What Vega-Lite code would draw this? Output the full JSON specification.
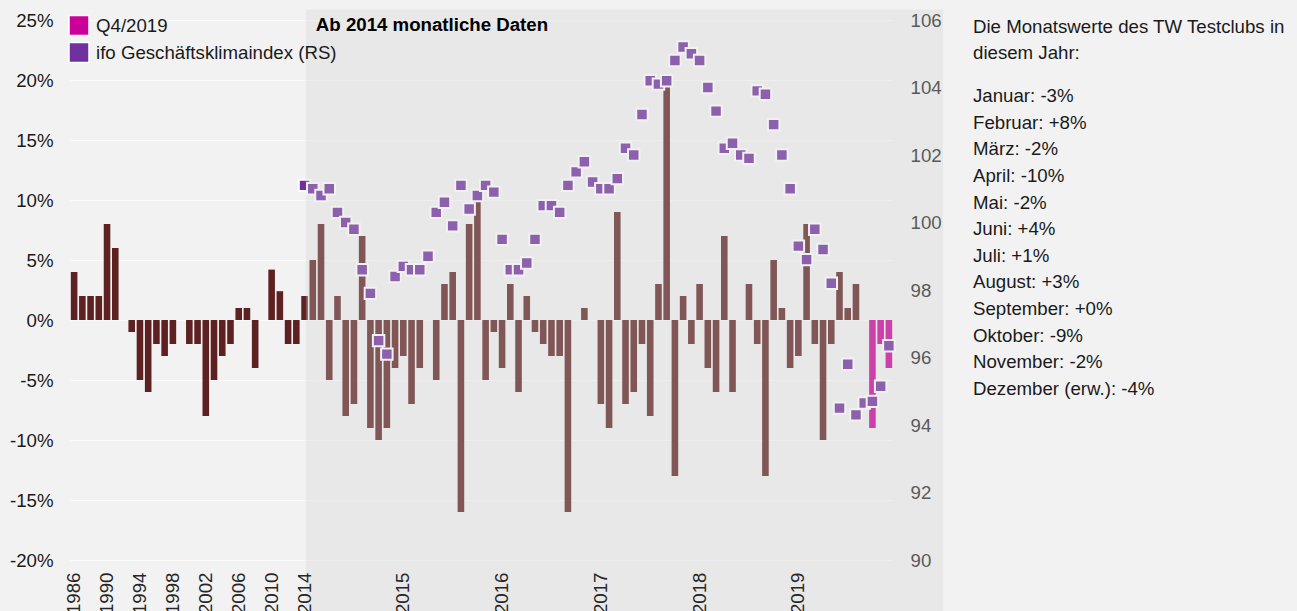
{
  "$schema": "https://vega.github.io/schema/vega-lite/v6.json",
  "width": 823,
  "height": 540,
  "autosize": {"type": "none"},
  "padding": {"left": 70, "top": 20, "right": 404, "bottom": 51},
  "background": "#F2F2F2",
  "config": {
    "font": "Liberation Sans",
    "view": {"stroke": null}
  },
  "title": {
    "text": ["Die Monatswerte des TW Testclubs in", "diesem Jahr:"],
    "subtitle": ["Januar: -3%", "Februar: +8%", "März: -2%", "April: -10%", "Mai: -2%", "Juni: +4%", "Juli: +1%", "August: +3%", "September: +0%", "Oktober: -9%", "November: -2%", "Dezember (erw.): -4%"],
    "orient": "top",
    "anchor": "start",
    "frame": "group",
    "offset": 0,
    "dx": 903,
    "dy": 389,
    "align": "left",
    "baseline": "top",
    "font": "Liberation Sans",
    "fontSize": 18.67,
    "fontWeight": "normal",
    "color": "#1a1a1a",
    "lineHeight": 26.6,
    "subtitleFont": "Liberation Sans",
    "subtitleFontSize": 18.67,
    "subtitleColor": "#1a1a1a",
    "subtitleLineHeight": 26.6,
    "subtitlePadding": 24.3,
    "limit": 0
  },
  "data": {
    "values": [
      {"k": "1986", "s": "annual", "v": 4},
      {"k": "1987", "s": "annual", "v": 2},
      {"k": "1988", "s": "annual", "v": 2},
      {"k": "1989", "s": "annual", "v": 2},
      {"k": "1990", "s": "annual", "v": 8},
      {"k": "1991", "s": "annual", "v": 6},
      {"k": "1992", "s": "annual", "v": 0},
      {"k": "1993", "s": "annual", "v": -1},
      {"k": "1994", "s": "annual", "v": -5},
      {"k": "1995", "s": "annual", "v": -6},
      {"k": "1996", "s": "annual", "v": -2},
      {"k": "1997", "s": "annual", "v": -3},
      {"k": "1998", "s": "annual", "v": -2},
      {"k": "1999", "s": "annual", "v": 0},
      {"k": "2000", "s": "annual", "v": -2},
      {"k": "2001", "s": "annual", "v": -2},
      {"k": "2002", "s": "annual", "v": -8},
      {"k": "2003", "s": "annual", "v": -5},
      {"k": "2004", "s": "annual", "v": -3},
      {"k": "2005", "s": "annual", "v": -2},
      {"k": "2006", "s": "annual", "v": 1},
      {"k": "2007", "s": "annual", "v": 1},
      {"k": "2008", "s": "annual", "v": -4},
      {"k": "2009", "s": "annual", "v": 0},
      {"k": "2010", "s": "annual", "v": 4.2},
      {"k": "2011", "s": "annual", "v": 2.4},
      {"k": "2012", "s": "annual", "v": -2},
      {"k": "2013", "s": "annual", "v": -2},
      {"k": "2014-01", "s": "monthly", "v": 2, "ifo": 101.1},
      {"k": "2014-02", "s": "monthly", "v": 5, "ifo": 101.0},
      {"k": "2014-03", "s": "monthly", "v": 8, "ifo": 100.8},
      {"k": "2014-04", "s": "monthly", "v": -5, "ifo": 101.0},
      {"k": "2014-05", "s": "monthly", "v": 2, "ifo": 100.3},
      {"k": "2014-06", "s": "monthly", "v": -8, "ifo": 100.0},
      {"k": "2014-07", "s": "monthly", "v": -7, "ifo": 99.8},
      {"k": "2014-08", "s": "monthly", "v": 7, "ifo": 98.6},
      {"k": "2014-09", "s": "monthly", "v": -9, "ifo": 97.9},
      {"k": "2014-10", "s": "monthly", "v": -10, "ifo": 96.5},
      {"k": "2014-11", "s": "monthly", "v": -9, "ifo": 96.1},
      {"k": "2014-12", "s": "monthly", "v": -4, "ifo": 98.4},
      {"k": "2015-01", "s": "monthly", "v": -3, "ifo": 98.7},
      {"k": "2015-02", "s": "monthly", "v": -7, "ifo": 98.6},
      {"k": "2015-03", "s": "monthly", "v": -4, "ifo": 98.6},
      {"k": "2015-04", "s": "monthly", "v": 0, "ifo": 99.0},
      {"k": "2015-05", "s": "monthly", "v": -5, "ifo": 100.3},
      {"k": "2015-06", "s": "monthly", "v": 3, "ifo": 100.6},
      {"k": "2015-07", "s": "monthly", "v": 4, "ifo": 99.9},
      {"k": "2015-08", "s": "monthly", "v": -16, "ifo": 101.1},
      {"k": "2015-09", "s": "monthly", "v": 8, "ifo": 100.4},
      {"k": "2015-10", "s": "monthly", "v": 10, "ifo": 100.8},
      {"k": "2015-11", "s": "monthly", "v": -5, "ifo": 101.1},
      {"k": "2015-12", "s": "monthly", "v": -1, "ifo": 100.9},
      {"k": "2016-01", "s": "monthly", "v": -4, "ifo": 99.5},
      {"k": "2016-02", "s": "monthly", "v": 3, "ifo": 98.6},
      {"k": "2016-03", "s": "monthly", "v": -6, "ifo": 98.6},
      {"k": "2016-04", "s": "monthly", "v": 2, "ifo": 98.8},
      {"k": "2016-05", "s": "monthly", "v": -1, "ifo": 99.5},
      {"k": "2016-06", "s": "monthly", "v": -2, "ifo": 100.5},
      {"k": "2016-07", "s": "monthly", "v": -3, "ifo": 100.5},
      {"k": "2016-08", "s": "monthly", "v": -3, "ifo": 100.3},
      {"k": "2016-09", "s": "monthly", "v": -16, "ifo": 101.1},
      {"k": "2016-10", "s": "monthly", "v": 0, "ifo": 101.5},
      {"k": "2016-11", "s": "monthly", "v": 1, "ifo": 101.8},
      {"k": "2016-12", "s": "monthly", "v": 0, "ifo": 101.2},
      {"k": "2017-01", "s": "monthly", "v": -7, "ifo": 101.0},
      {"k": "2017-02", "s": "monthly", "v": -9, "ifo": 101.0},
      {"k": "2017-03", "s": "monthly", "v": 9, "ifo": 101.3},
      {"k": "2017-04", "s": "monthly", "v": -7, "ifo": 102.2},
      {"k": "2017-05", "s": "monthly", "v": -6, "ifo": 102.0},
      {"k": "2017-06", "s": "monthly", "v": -2, "ifo": 103.2},
      {"k": "2017-07", "s": "monthly", "v": -8, "ifo": 104.2},
      {"k": "2017-08", "s": "monthly", "v": 3, "ifo": 104.1},
      {"k": "2017-09", "s": "monthly", "v": 20, "ifo": 104.2},
      {"k": "2017-10", "s": "monthly", "v": -13, "ifo": 104.8},
      {"k": "2017-11", "s": "monthly", "v": 2, "ifo": 105.2},
      {"k": "2017-12", "s": "monthly", "v": -2, "ifo": 105.0},
      {"k": "2018-01", "s": "monthly", "v": 3, "ifo": 104.8},
      {"k": "2018-02", "s": "monthly", "v": -4, "ifo": 104.0},
      {"k": "2018-03", "s": "monthly", "v": -6, "ifo": 103.3},
      {"k": "2018-04", "s": "monthly", "v": 7, "ifo": 102.2},
      {"k": "2018-05", "s": "monthly", "v": -6, "ifo": 102.35},
      {"k": "2018-06", "s": "monthly", "v": 0, "ifo": 102.0},
      {"k": "2018-07", "s": "monthly", "v": 3, "ifo": 101.9},
      {"k": "2018-08", "s": "monthly", "v": -2, "ifo": 103.9},
      {"k": "2018-09", "s": "monthly", "v": -13, "ifo": 103.8},
      {"k": "2018-10", "s": "monthly", "v": 5, "ifo": 102.9},
      {"k": "2018-11", "s": "monthly", "v": 1, "ifo": 102.0},
      {"k": "2018-12", "s": "monthly", "v": -4, "ifo": 101.0},
      {"k": "2019-01", "s": "monthly", "v": -3, "ifo": 99.3},
      {"k": "2019-02", "s": "monthly", "v": 8, "ifo": 98.9},
      {"k": "2019-03", "s": "monthly", "v": -2, "ifo": 99.8},
      {"k": "2019-04", "s": "monthly", "v": -10, "ifo": 99.2},
      {"k": "2019-05", "s": "monthly", "v": -2, "ifo": 98.2},
      {"k": "2019-06", "s": "monthly", "v": 4, "ifo": 94.5},
      {"k": "2019-07", "s": "monthly", "v": 1, "ifo": 95.8},
      {"k": "2019-08", "s": "monthly", "v": 3, "ifo": 94.3},
      {"k": "2019-09", "s": "monthly", "v": 0, "ifo": 94.65},
      {"k": "2019-10", "s": "Q4/2019", "v": -9, "ifo": 94.7},
      {"k": "2019-11", "s": "Q4/2019", "v": -2, "ifo": 95.15},
      {"k": "2019-12", "s": "Q4/2019", "v": -4, "ifo": 96.35}
    ]
  },
  "encoding": {
    "x": {
      "field": "k",
      "type": "nominal",
      "sort": null,
      "scale": {"paddingInner": 0.2, "paddingOuter": 0.1},
      "axis": {
        "title": null,
        "values": ["1986", "1990", "1994", "1998", "2002", "2006", "2010", "2014-01", "2015-01", "2016-01", "2017-01", "2018-01", "2019-01"],
        "labelExpr": "substring(datum.value, 0, 4)",
        "labelAngle": 270,
        "labelAlign": "right",
        "labelBaseline": "middle",
        "labelFontSize": 18.67,
        "labelColor": "#262626",
        "labelPadding": 12,
        "labelOverlap": false,
        "labelBound": false,
        "ticks": false,
        "domain": false,
        "grid": false,
        "zindex": 1
      }
    }
  },
  "layer": [
    {
      "mark": {"type": "bar", "opacity": 1},
      "encoding": {
        "y": {
          "field": "v",
          "type": "quantitative",
          "scale": {"domain": [-20, 25], "nice": false},
          "axis": {
            "title": null,
            "orient": "left",
            "values": [-20, -15, -10, -5, 0, 5, 10, 15, 20, 25],
            "labelExpr": "datum.value + '%'",
            "labelFontSize": 18.67,
            "labelColor": "#1a1a1a",
            "labelPadding": 17,
            "ticks": false,
            "domain": false,
            "grid": true,
            "gridColor": "#FFFFFF",
            "gridOpacity": 0.7,
            "gridWidth": 1
          }
        },
        "color": {
          "field": "s",
          "type": "nominal",
          "scale": {
            "domain": ["annual", "monthly", "Q4/2019", "ifo Geschäftsklimaindex (RS)"],
            "range": ["#5E2121", "#5E2121", "#CC0099", "#7030A0"]
          },
          "legend": {
            "values": ["Q4/2019", "ifo Geschäftsklimaindex (RS)"],
            "title": null,
            "orient": "none",
            "legendX": -2,
            "legendY": -5.5,
            "padding": 0,
            "symbolType": "square",
            "symbolSize": 400,
            "symbolOpacity": 1,
            "symbolStrokeColor": "#FFFFFF",
            "symbolStrokeWidth": 1.5,
            "labelFontSize": 18.67,
            "labelColor": "#1a1a1a",
            "labelOffset": 6,
            "labelLimit": 0,
            "rowPadding": 1,
            "zindex": 1
          }
        }
      }
    },
    {
      "mark": {"type": "square", "size": 132, "opacity": 1, "filled": true, "stroke": "#FFFFFF", "strokeWidth": 2},
      "encoding": {
        "y": {
          "field": "ifo",
          "type": "quantitative",
          "scale": {"domain": [90, 106], "nice": false, "zero": false},
          "axis": {
            "title": null,
            "orient": "right",
            "values": [90, 92, 94, 96, 98, 100, 102, 104, 106],
            "labelFontSize": 18.67,
            "labelColor": "#262626",
            "labelPadding": 17,
            "ticks": false,
            "domain": false,
            "grid": false
          }
        },
        "color": {"datum": "ifo Geschäftsklimaindex (RS)"}
      }
    },
    {
      "data": {"values": [{}]},
      "mark": {"type": "rect", "fill": "#CFCFCF", "opacity": 0.3},
      "encoding": {
        "x": {"datum": "2014-01", "bandPosition": 0.7},
        "x2": {"datum": "2019-12", "bandPosition": 8.7},
        "y": {"datum": 25.875, "type": "quantitative", "scale": {"domain": [-20, 25], "nice": false}, "axis": null},
        "y2": {"datum": -25}
      }
    },
    {
      "data": {"values": [{}]},
      "mark": {"type": "text", "text": "Ab 2014 monatliche Daten", "fontSize": 18.67, "fontWeight": "bold", "color": "#000000", "align": "left", "baseline": "middle", "dx": 10},
      "encoding": {
        "x": {"datum": "2014-01", "bandPosition": 0.7},
        "y": {"datum": 24.6, "type": "quantitative", "scale": {"domain": [-20, 25], "nice": false}, "axis": null}
      }
    }
  ],
  "resolve": {"scale": {"y": "independent"}, "axis": {"y": "independent"}}
}
